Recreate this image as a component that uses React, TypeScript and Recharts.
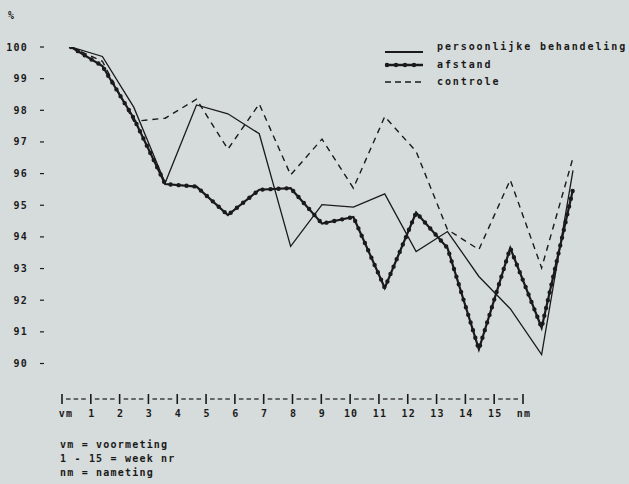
import React from 'react';
import { LineChart, Line, XAxis, YAxis } from 'recharts';

// week labels on the x axis
const weeks = ['vm', '1', '2', '3', '4', '5', '6', '7', '8', '9', '10', '11', '12', '13', '14', '15', 'nm'];

// percentages per week
const persoonlijk = [100, 99.7, 98.1, 95.7, 98.17, 97.89, 97.26, 93.7, 95.02, 94.94, 95.36, 93.54, 94.17, 92.75, 91.73, 90.28, 96.1];
const afstand = [100, 99.4, 97.75, 95.67, 95.59, 94.69, 95.49, 95.54, 94.42, 94.63, 92.39, 94.77, 93.65, 90.45, 93.65, 91.13, 95.5];
const controle = [100, 99.55, 97.65, 97.75, 98.35, 96.77, 98.2, 95.96, 97.09, 95.54, 97.8, 96.7, 94.23, 93.6, 95.8, 93.02, 96.5];

const yTicks = [90, 91, 92, 93, 94, 95, 96, 97, 98, 99, 100];
const seriesNames = ['persoonlijke behandeling', 'afstand', 'controle'];
const notes = ['vm = voormeting', '1 - 15 = week nr', 'nm = nameting'];

const data = weeks.map((w, i) => ({
  week: w,
  p: persoonlijk[i],
  a: afstand[i],
  c: controle[i],
}));

const INK = '#1a1a1a';
const BG = '#d6dcdc';
const FONT = '"DejaVu Sans Mono", "Liberation Mono", monospace';

const W = 629;
const H = 484;
const PLOT_LEFT = 62;
const PLOT_RIGHT = 573;
const PLOT_TOP = 47;
const Y_AT_90 = 363.5;
const AXIS_Y = 399;
const LAB_PAD_RIGHT = 50;
const DATA_PAD_LEFT = 9;
const X_AXIS_H = 30;

// the axis runs past 90 down to the printed x axis
const unit = (Y_AT_90 - PLOT_TOP) / 10;
const yMin = 100 - (AXIS_Y - PLOT_TOP) / unit;
const STEP = (PLOT_RIGHT - LAB_PAD_RIGHT - PLOT_LEFT) / (weeks.length - 1);

const textStyle = { fontFamily: FONT, fontSize: 10, fontWeight: 700, fill: INK, letterSpacing: 1.2 };

const YTick = (props: any) => {
  const { y, payload } = props;
  return (
    <g>
      <text x={28} y={y} dy={3.5} textAnchor="end" style={textStyle}>
        {payload.value}
      </text>
      <rect x={40} y={y - 0.6} width={4} height={1.2} fill={INK} />
    </g>
  );
};

const XTick = (props: any) => {
  const { payload, index } = props;
  const x = Number(props.x);
  const last = index === weeks.length - 1;
  const dashes = [0, 1, 2];
  return (
    <g>
      <path d={`M${x},${AXIS_Y - 5}V${AXIS_Y + 5}`} stroke={INK} strokeWidth={1.6} fill="none" />
      {!last &&
        dashes.map((d) => (
          <rect
            key={d}
            x={x + 4 + d * (STEP - 6) / 3}
            y={AXIS_Y - 0.6}
            width={(STEP - 6) / 3 - 3}
            height={1.2}
            fill={INK}
          />
        ))}
      <text x={x + (index === 0 ? 4 : 1)} y={AXIS_Y + 18} textAnchor="middle" style={textStyle}>
        {payload.value}
      </text>
    </g>
  );
};

const LegendBox = () => {
  const rows = [52, 65, 82];
  const base = [50, 68, 85];
  return (
    <svg width={W} height={100} style={{ position: 'absolute', left: 0, top: 0 }}>
      {seriesNames.map((name, i) => (
        <g key={name}>
          {i === 0 && <line x1={385} x2={423} y1={rows[i]} y2={rows[i]} stroke={INK} strokeWidth={2.2} />}
          {i === 1 && (
            <g>
              <line x1={385} x2={423} y1={rows[i]} y2={rows[i]} stroke={INK} strokeWidth={2.4} />
              <line x1={387} x2={423} y1={rows[i]} y2={rows[i]} stroke={INK} strokeWidth={4.4} strokeLinecap="round" strokeDasharray="0 9" />
            </g>
          )}
          {i === 2 && <line x1={385} x2={423} y1={rows[i]} y2={rows[i]} stroke={INK} strokeWidth={1.6} strokeDasharray="6 4" />}
          <text x={437} y={base[i]} style={{ ...textStyle, letterSpacing: 1.9 }}>
            {name}
          </text>
        </g>
      ))}
    </svg>
  );
};

export default function App() {
  return (
    <div style={{ position: 'absolute', left: 0, top: 0, width: W, height: H, background: BG, overflow: 'hidden' }}>
      <LineChart
        width={W}
        height={H}
        data={data}
        margin={{ top: PLOT_TOP, right: W - PLOT_RIGHT, bottom: H - AXIS_Y - X_AXIS_H, left: 0 }}
      >
        <XAxis xAxisId="data" dataKey="week" hide padding={{ left: DATA_PAD_LEFT, right: 0 }} />
        <XAxis
          xAxisId="lab"
          dataKey="week"
          height={X_AXIS_H}
          interval={0}
          axisLine={false}
          tickLine={false}
          tick={<XTick />}
          padding={{ left: 0, right: LAB_PAD_RIGHT }}
        />
        <YAxis
          type="number"
          domain={[yMin, 100]}
          ticks={yTicks}
          width={PLOT_LEFT}
          axisLine={false}
          tickLine={false}
          tick={<YTick />}
          allowDataOverflow
        />
        <Line
          xAxisId="data"
          dataKey="c"
          name="controle"
          stroke={INK}
          strokeWidth={1.4}
          strokeDasharray="6 5"
          dot={false}
          isAnimationActive={false}
        />
        <Line
          xAxisId="data"
          dataKey="p"
          name="persoonlijke behandeling"
          stroke={INK}
          strokeWidth={1.3}
          dot={false}
          isAnimationActive={false}
        />
        <Line
          xAxisId="data"
          dataKey="a"
          name="afstand"
          stroke={INK}
          strokeWidth={2.2}
          dot={false}
          isAnimationActive={false}
        />
        <Line
          xAxisId="data"
          dataKey="a"
          name="afstand-beads"
          legendType="none"
          stroke={INK}
          strokeWidth={4.4}
          strokeLinecap="round"
          strokeDasharray="0 8"
          dot={false}
          isAnimationActive={false}
        />
      </LineChart>
      <LegendBox />
      <svg width={W} height={H} style={{ position: 'absolute', left: 0, top: 0, pointerEvents: 'none' }}>
        <text x={8} y={19} style={textStyle}>%</text>
        {notes.map((n, i) => (
          <text key={n} x={60} y={448 + i * 14} style={textStyle}>
            {n}
          </text>
        ))}
      </svg>
    </div>
  );
}
